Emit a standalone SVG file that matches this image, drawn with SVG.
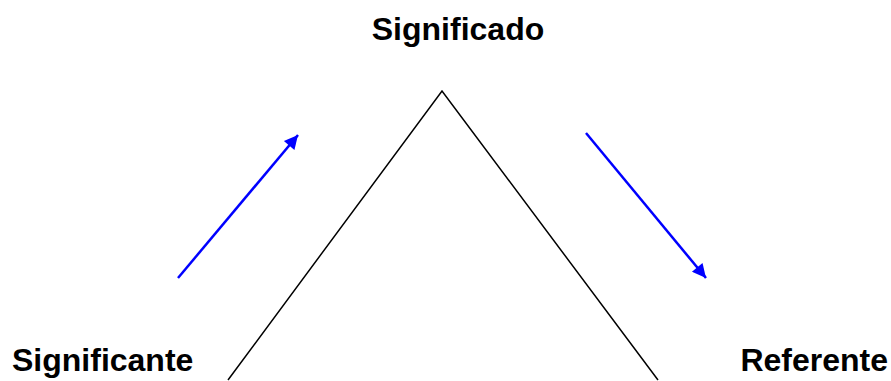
<svg xmlns="http://www.w3.org/2000/svg" width="891" height="381" viewBox="0 0 891 381">
<style>
.lbl{font-family:"Liberation Sans",Arial,sans-serif;font-weight:bold;font-size:32px;fill:#000}
.edge{stroke:#000;stroke-width:1.5;fill:none}
.arr{stroke:#0000ff;stroke-width:2.5;fill:none;marker-end:url(#ah)}
</style>
<defs>
<marker id="ah" viewBox="0 0 10 10" refX="10" refY="5" markerWidth="7" markerHeight="5.5" markerUnits="strokeWidth" orient="auto">
<path d="M0,0 L10,5 L0,10 Z" fill="#0000ff"/>
</marker>
</defs>
<g id="significado"><text class="lbl" x="458" y="40" text-anchor="middle">Significado</text></g>
<g id="significante"><text class="lbl" x="12" y="371">Significante</text></g>
<g id="referente"><text class="lbl" x="888" y="371" text-anchor="end">Referente</text></g>
<g id="connectors">
<polyline class="edge" points="228,380 442,91 658,380"/>
<line class="arr" x1="178" y1="278" x2="298" y2="135"/>
<line class="arr" x1="586" y1="133" x2="706" y2="278"/>
</g>
</svg>
